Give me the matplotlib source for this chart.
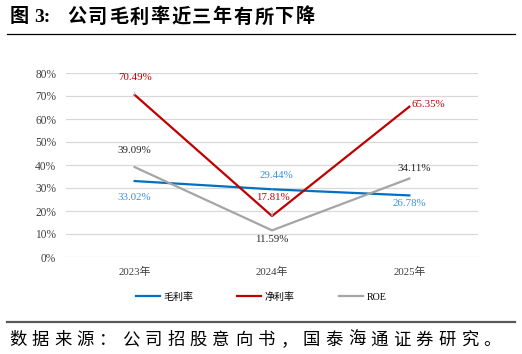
import matplotlib
matplotlib.use('Agg')
import matplotlib.pyplot as plt
from matplotlib.lines import Line2D

years = ['2023年', '2024年', '2025年']
gross_margin = [33.02, 29.44, 26.78]
net_margin = [70.49, 17.81, 65.35]
roe = [39.09, 11.59, 34.11]
series_names = ['毛利率', '净利率', 'ROE']
yticks = [0, 10, 20, 30, 40, 50, 60, 70, 80]

title_text = '公司毛利率近三年有所下降'
source_text = '数据来源：公司招股意向书，国泰海通证券研究。'

MIX = ['Liberation Serif', 'Noto Sans CJK SC']
BLUE = '#0070C0'
RED = '#C00000'
GRAY = '#A5A5A5'

W, H = 522, 354
fig = plt.figure(figsize=(W / 100, H / 100), dpi=100)
ax = fig.add_axes([66 / W, 1 - 257 / H, 412 / W, 184 / H])

x = list(range(len(years)))
ax.plot(x, gross_margin, color=BLUE, lw=1.6, label=series_names[0], zorder=3)
ax.plot(x, net_margin, color=RED, lw=1.6, label=series_names[1], zorder=3)
ax.plot(x, roe, color=GRAY, lw=1.6, label=series_names[2], zorder=3)

ax.set_xlim(-0.5, 2.5)
ax.set_ylim(0, 80)
ax.set_yticks(yticks)
ax.set_yticklabels(['%d%%' % v for v in yticks], family=MIX, fontsize=8.3, color='#404040')
ax.set_xticks(x)
ax.set_xticklabels(years, family=MIX, fontsize=7.8, color='#404040')
ax.tick_params(axis='y', length=0, pad=7)
ax.tick_params(axis='x', length=0, pad=7)
for s in ax.spines.values():
    s.set_visible(False)
ax.grid(axis='y', color='#D9D9D9', lw=0.9)
ax.set_axisbelow(True)


# data labels, offsets in pixels
def lab(i, v, dx, dy, color, ha='center', leader=False):
    ax.annotate('%.2f%%' % v, (i, v), xytext=(dx, dy), textcoords='offset pixels',
                ha=ha, va='center', fontsize=7.8, family=MIX, color=color,
                arrowprops=dict(arrowstyle='-', color='#BFBFBF', lw=0.8,
                                shrinkA=5, shrinkB=0) if leader else None)


lab(0, gross_margin[0], 0, -16, '#3B8FD6')
lab(1, gross_margin[1], 4, 14, '#3B8FD6', leader=True)
lab(2, gross_margin[2], 0, -8, '#3B8FD6')
lab(0, net_margin[0], 0, 17, RED, leader=True)
lab(1, net_margin[1], 1, 19, RED, leader=True)
lab(2, net_margin[2], 2, 2, RED, ha='left')
lab(0, roe[0], 0, 17, '#262626')
lab(1, roe[1], 0, -9, '#262626')
lab(2, roe[2], 5, 10, '#262626')

fig.legend(loc='center', bbox_to_anchor=(0.5, 1 - 297 / H), ncol=3, frameon=False,
           prop={'family': MIX, 'size': 7.2}, handlelength=2.4, handletextpad=0.35,
           columnspacing=4.4)

# title: "图 3:" then wide-spaced characters
fig.text(10 / W, 1 - 17 / H, '图', family=['Noto Sans CJK SC'], fontsize=13.8,
         fontweight='bold', va='center', ha='left')
fig.text(34 / W, 1 - 17 / H, '3:', family=['Liberation Serif'], fontsize=14,
         fontweight='bold', va='center', ha='left')
for k, ch in enumerate(title_text):
    fig.text((67 + 20.8 * k) / W, 1 - 17 / H, ch, family=['Noto Sans CJK SC'],
             fontsize=13.8, fontweight='bold', va='center', ha='left')

fig.add_artist(Line2D([7 / W, 515 / W], [1 - 34 / H] * 2, color='black', lw=0.9))
fig.add_artist(Line2D([7 / W, 515 / W], [1 - 322 / H] * 2, color='#595959', lw=1.6))

for k, ch in enumerate(source_text):
    fig.text((9 + 22.6 * k) / W, 1 - 340 / H, ch, family=['Noto Sans CJK SC'],
             fontsize=12.5, va='center', ha='left')

fig.savefig('out.png', dpi=100)
